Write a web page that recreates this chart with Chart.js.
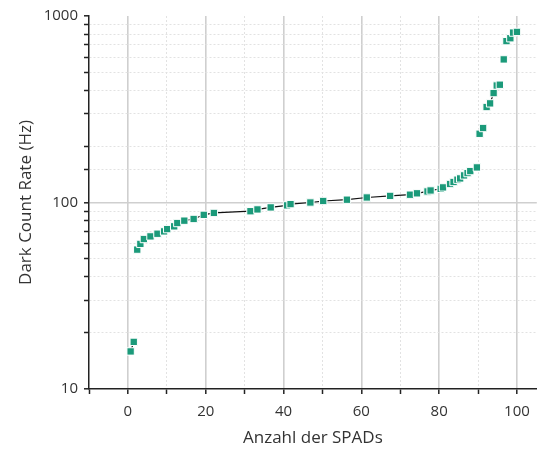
<!DOCTYPE html>
<html>
<head>
<meta charset="utf-8">
<script src="https://cdn.jsdelivr.net/npm/chart.js@4/dist/chart.umd.min.js"></script>
<style>
  html, body { margin: 0; padding: 0; background: #fff; }
  #wrap { width: 543px; height: 452px; position: relative; }
</style>
</head>
<body>
<div id="wrap"><canvas id="chart"></canvas></div>
<script>
// SPAD index (x) and measured dark count rate in Hz (y)
const spadX = [
  0.7, 1.5, 2.4, 3.2, 4.1, 5.8, 7.6, 9.3, 10.1, 11.9,
  12.7, 14.5, 16.9, 19.5, 22.1, 31.5, 33.3, 36.7, 40.9, 41.8,
  46.9, 50.2, 56.3, 61.4, 67.4, 72.5, 74.3, 77.0, 77.8, 80.4,
  81.0, 82.8, 83.7, 84.7, 85.4, 86.4, 87.3, 88.0, 89.7, 90.4,
  91.3, 92.2, 93.1, 94.0, 94.8, 95.6, 96.6, 97.3, 98.3, 99.0,
  100
];
const darkCountRate = [
  15.9, 17.9, 55.9, 60, 63.7, 65.8, 68, 70, 72, 74.5,
  77.6, 79.9, 81.6, 85.9, 87.9, 89.8, 91.8, 94.1, 96.5, 98,
  100, 101.9, 103.5, 106.4, 108.5, 110.1, 112, 114.6, 116, 118.4,
  120.5, 125.7, 128.8, 132.5, 134.6, 139.7, 143.8, 147.4, 154.2, 233.6,
  250.8, 325, 340, 386, 424, 428, 585, 733, 760, 815,
  822
];
const xLabelValues = [0, 20, 40, 60, 80, 100];
const yLabelValues = [10, 100, 1000];

const points = spadX.map((x, i) => ({ x: x, y: darkCountRate[i] }));

const FONT = '"Open Sans", "Noto Sans", sans-serif';
const TEXT = '#333333';

function isMajorX(v) { return xLabelValues.includes(v); }
function isMajorY(v) { return yLabelValues.includes(v); }

// the connecting line is not visible across the big jumps
function segColor(ctx) {
  return Math.abs(ctx.p1.y - ctx.p0.y) > 12 ? 'rgba(0,0,0,0)' : '#111111';
}

new Chart(document.getElementById('chart'), {
  type: 'scatter',
  data: {
    datasets: [{
      data: points,
      showLine: true,
      borderColor: '#111111',
      borderWidth: 1.2,
      segment: { borderColor: segColor },
      pointStyle: 'rect',
      pointRadius: 5.2,
      pointBackgroundColor: '#1b9a7a',
      pointBorderColor: '#ffffff',
      pointBorderWidth: 1
    }]
  },
  options: {
    responsive: true,
    maintainAspectRatio: false,
    animation: false,
    layout: { padding: { top: 16, right: 0, left: 0, bottom: 0 } },
    plugins: {
      legend: { display: false },
      tooltip: { enabled: false }
    },
    scales: {
      x: {
        type: 'linear',
        min: -10,
        max: 105.1,
        afterFit: (scale) => { scale.height = 63; },
        ticks: {
          stepSize: 10,
          includeBounds: false,
          autoSkip: false,
          maxRotation: 0,
          padding: 9,
          color: TEXT,
          font: { family: FONT, size: 15 },
          callback: (v) => isMajorX(v) ? String(v) : ''
        },
        grid: {
          color: (ctx) => {
            const v = ctx.tick ? ctx.tick.value : null;
            if (v === -10) return 'rgba(0,0,0,0)';
            return isMajorX(v) ? '#cfcfcf' : '#e2e2e2';
          },
          lineWidth: (ctx) => (ctx.tick && isMajorX(ctx.tick.value)) ? 1.6 : 1,
          tickColor: '#222222',
          tickLength: 5,
          tickWidth: 1.5
        },
        border: {
          color: '#222222',
          width: 1.5,
          dash: (ctx) => (ctx.tick && !isMajorX(ctx.tick.value)) ? [2, 2] : []
        },
        title: {
          display: true,
          text: 'Anzahl der SPADs',
          color: TEXT,
          font: { family: FONT, size: 17 },
          padding: { top: 0, bottom: 4 }
        }
      },
      y: {
        type: 'logarithmic',
        min: 10,
        max: 1000,
        afterFit: (scale) => { scale.width = 89; },
        ticks: {
          autoSkip: false,
          padding: 6,
          color: TEXT,
          font: { family: FONT, size: 15 },
          callback: (v) => isMajorY(v) ? String(v) : ''
        },
        grid: {
          color: (ctx) => {
            const v = ctx.tick ? ctx.tick.value : null;
            if (v === 10 || v === 1000) return 'rgba(0,0,0,0)';
            return isMajorY(v) ? '#cfcfcf' : '#e2e2e2';
          },
          lineWidth: (ctx) => (ctx.tick && isMajorY(ctx.tick.value)) ? 1.6 : 1,
          tickColor: '#222222',
          tickLength: 5,
          tickWidth: 1.5
        },
        border: {
          color: '#222222',
          width: 1.5,
          dash: (ctx) => (ctx.tick && !isMajorY(ctx.tick.value)) ? [2, 2] : []
        },
        title: {
          display: true,
          text: 'Dark Count Rate (Hz)',
          color: TEXT,
          font: { family: FONT, size: 17 },
          padding: { top: 16, bottom: 0 }
        }
      }
    }
  }
});
</script>
</body>
</html>
